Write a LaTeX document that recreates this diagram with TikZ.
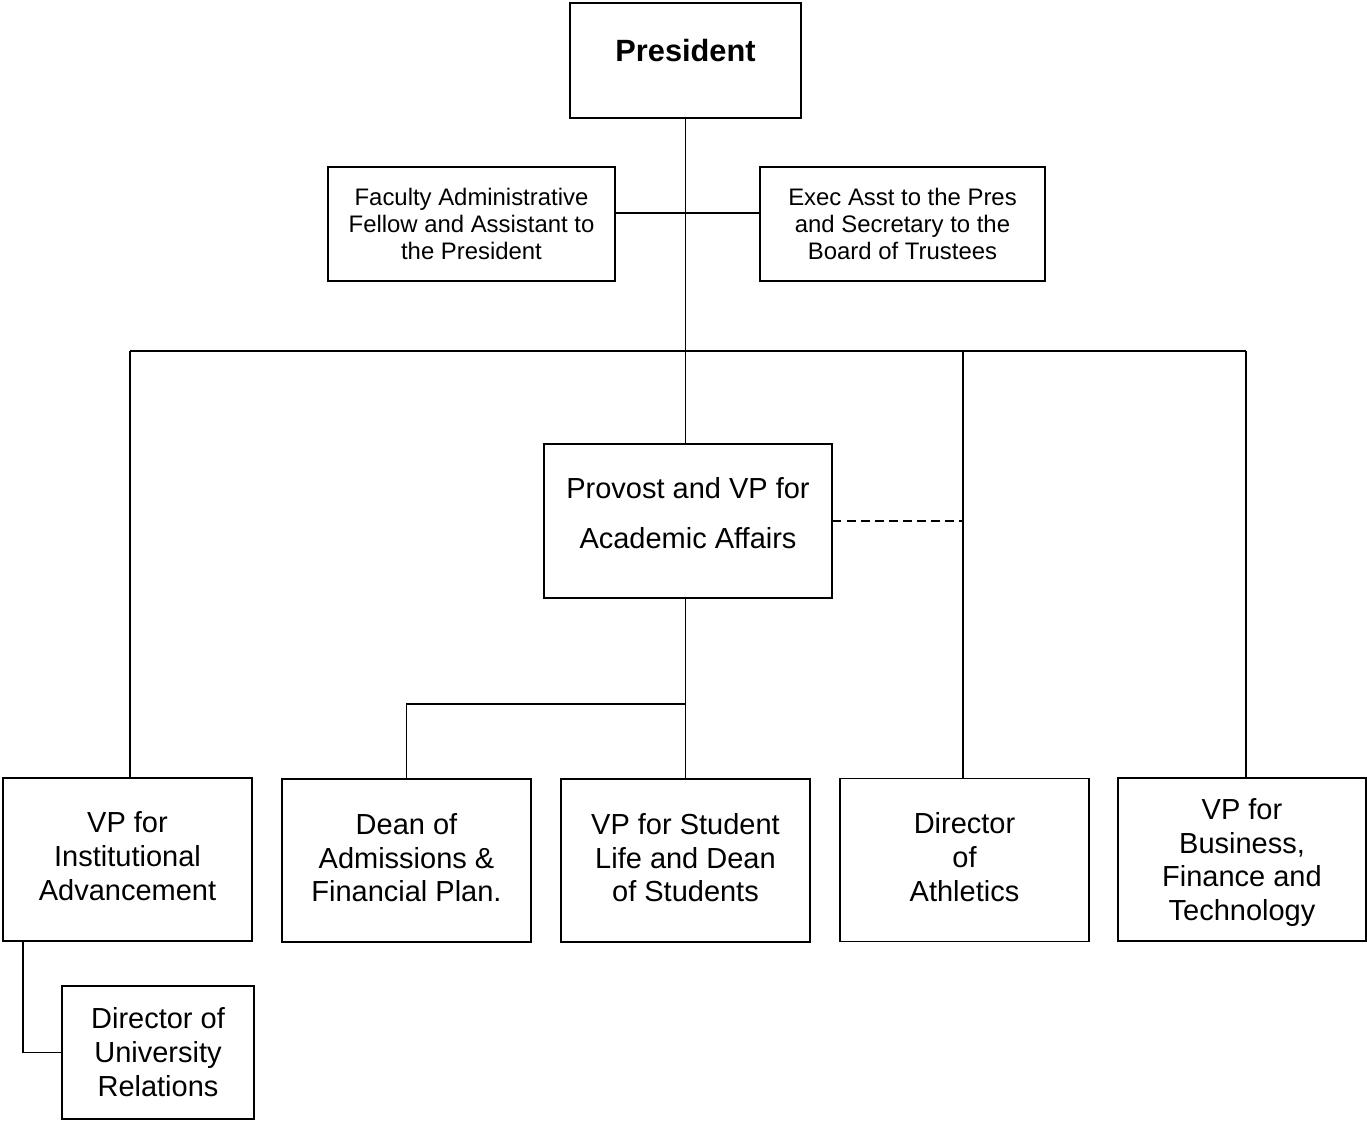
\documentclass[tikz,border=0pt]{standalone}
\usepackage{fontspec}
\setmainfont{Liberation Sans}
\begin{document}
\begin{tikzpicture}[x=0.02cm,y=-0.02cm,
  box/.style={draw,line width=0.8pt,inner sep=0pt,align=center},
  big/.style={font=\fontsize{16.5}{19.3}\selectfont},
  small/.style={font=\fontsize{13.6}{15.3}\selectfont},
  lowbox/.style={box,big,minimum width=4.98cm,minimum height=3.26cm,text depth=0.12cm},
  conn/.style={line width=0.8pt}]
\useasboundingbox (0,0) rectangle (1367,1123);
% boxes
\node[box,font=\fontsize{17.5}{20}\selectfont\bfseries,minimum width=4.62cm,minimum height=2.30cm,text depth=0pt] (pres) at (685.5,60.5) {\raisebox{0.41cm}{President}};
\node[box,small,minimum width=5.74cm,minimum height=2.28cm] (fac) at (471.5,224) {Faculty Administrative\\Fellow and Assistant to\\the President};
\node[box,small,minimum width=5.70cm,minimum height=2.28cm] (exec) at (902.5,224) {Exec Asst to the Pres\\and Secretary to the\\Board of Trustees};
\node[box,font=\fontsize{16.5}{28.4}\selectfont,minimum width=5.76cm,minimum height=3.08cm,text depth=0.33cm] (prov) at (688,521) {Provost and VP for\\Academic Affairs};
\node[lowbox,text depth=0.14cm] (vpi) at (127.5,859.5) {VP for\\Institutional\\Advancement};
\node[lowbox] (dean) at (406.5,860.5) {Dean of\\Admissions \&\\Financial Plan.};
\node[lowbox] (vps) at (685.5,860.5) {VP for Student\\Life and Dean\\of Students};
\node[lowbox] (ath) at (964.5,860) {Director\\of\\Athletics};
\node[lowbox,minimum width=4.96cm,text depth=0pt,font=\fontsize{16.5}{19.1}\selectfont] (vpb) at (1242,859.5) {VP for\\Business,\\Finance and\\Technology};
\node[box,big,minimum width=3.84cm,minimum height=2.66cm] (ur) at (158,1052.5) {Director of\\University\\Relations};
% connectors
\coordinate (hy) at (0,213);
\coordinate (bus) at (0,351);
\coordinate (br) at (0,704);
\coordinate (vpiout) at (23,941);
\coordinate (xl) at (130,0);
\coordinate (xa) at (963,0);
\coordinate (xr) at (1246,0);
\draw[conn] (pres.south) -- (pres.south |- prov.north);
\draw[conn] (fac.east |- hy) -- (exec.west |- hy);
\draw[conn] (xl |- bus) -- (xr |- bus);
\draw[conn] (xl |- bus) -- (xl |- vpi.north);
\draw[conn] (xa |- bus) -- (xa |- ath.north);
\draw[conn] (xr |- bus) -- (xr |- vpb.north);
\draw[conn,dash pattern=on 5pt off 3pt] (prov.east) -- (xa |- prov.east);
\draw[conn] (vps.north |- prov.south) -- (vps.north);
\draw[conn] (dean.north) -- (dean.north |- br) -- (vps.north |- br);
\draw[conn] (vpiout) |- (ur.west);
\end{tikzpicture}
\end{document}
